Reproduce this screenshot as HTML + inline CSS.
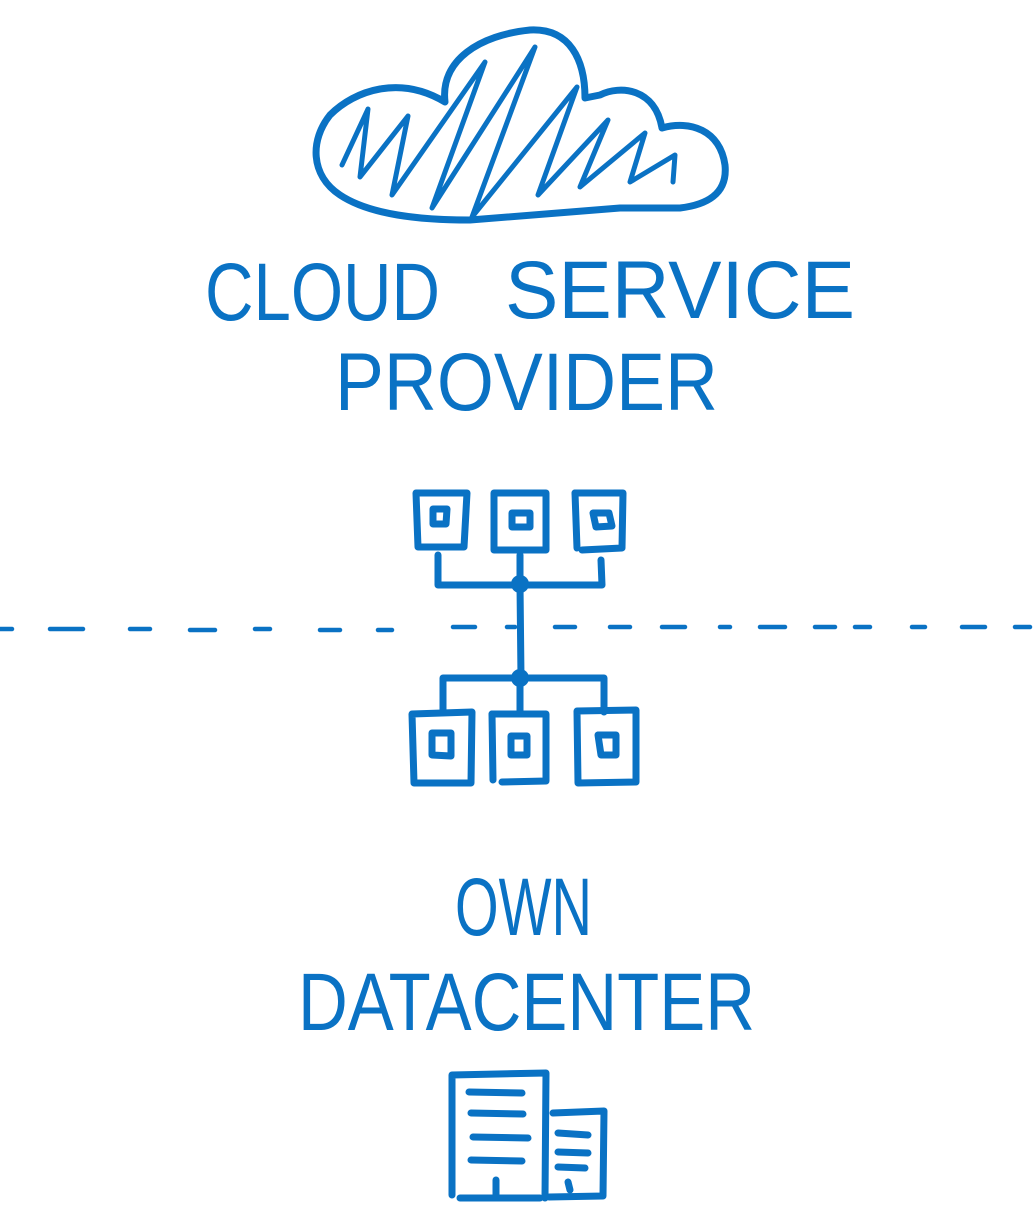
<!DOCTYPE html>
<html><head><meta charset="utf-8"><style>
html,body{margin:0;padding:0;background:#fff;}
svg{display:block}
text{font-family:"Liberation Sans",sans-serif;fill:#0a72c4;font-size:82px;}
</style></head><body>
<svg width="1036" height="1219" viewBox="0 0 1036 1219" xmlns="http://www.w3.org/2000/svg">
<g fill="none" stroke="#0a72c4" stroke-width="7" stroke-linecap="round" stroke-linejoin="round">
<!-- cloud -->
<path d="M445,102 C440,60 480,35 530,30 C570,28 585,60 585,98 L600,95 C620,85 655,88 662,128 C690,120 720,130 725,165 C728,195 705,205 680,208 L620,208 L470,220 C420,220 370,215 340,195 C310,175 310,140 330,115 C355,90 400,75 445,102 Z"/>
<path stroke-width="5" d="M342,165 L368,109 L360,177 L408,116 L392,195 L485,62 L432,208 L535,47 L472,217 L577,87 L538,195 L608,120 L580,187 L645,133 L630,182 L675,155 L673,182"/>
<!-- top servers -->
<path d="M416,493 L467,493 L464,547 L418,547 Z"/>
<path d="M433,509 L447,509 L446,524 L433,524 Z"/>
<path d="M494,493 L546,493 L546,550 L494,550 Z"/>
<path d="M512,513 L530,513 L530,527 L512,527 Z"/>
<path d="M575,493 L623,493 L622,548 L582,550"/>
<path d="M575,493 L577,548"/>
<path d="M593,513 L609,513 L612,526 L596,527 Z"/>
<path d="M438,555 L438,585 L602,585 L601,560"/>
<path d="M520,555 L520,585 L521,678"/>
<!-- bottom -->
<path d="M443,712 L443,678 L604,678 L604,712"/>
<path d="M520,678 L520,712"/>
<path d="M412,714 L472,712 L471,783 L414,783 Z"/>
<path d="M432,733 L451,733 L451,756 L432,755 Z"/>
<path d="M492,714 L546,714 L546,781 L502,782"/>
<path d="M492,714 L493,780"/>
<path d="M511,736 L527,736 L527,755 L511,755 Z"/>
<path d="M577,711 L636,710 L636,782 L578,783 Z"/>
<path d="M598,735 L616,735 L616,755 L601,755 Z"/>
<!-- building -->
<path d="M452,1195 L452,1075 L546,1073 L545,1198"/>
<path d="M460,1198 L540,1198"/>
<path d="M469,1092 L522,1093 M471,1113 L523,1114 M473,1137 L528,1138 M471,1160 L522,1161"/>
<path d="M496,1180 L496,1197"/>
<path d="M553,1113 L604,1111 L603,1196 L549,1197"/>
<path d="M558,1133 L588,1135 M558,1152 L588,1153 M558,1167 L585,1168"/>
<path d="M568,1182 L570,1190"/>
</g>
<!-- dashed line -->
<g stroke="#0a72c4" stroke-width="4.5" stroke-linecap="round">
<path d="M0,629 L12,629 M50,629 L83,629 M130,629 L150,629 M190,630 L215,630 M255,629 L270,629 M320,630 L340,630 M378,630 L392,630 M453,627 L475,627 M507,627 L515,627 M555,627 L575,627 M610,627 L630,627 M662,627 L685,627 M720,627 L730,627 M760,627 L785,627 M815,627 L835,627 M855,627 L870,627 M912,627 L925,627 M962,627 L985,627 M1015,627 L1030,627"/>
</g>
<circle cx="520" cy="584" r="9" fill="#0a72c4"/>
<circle cx="520" cy="678" r="9" fill="#0a72c4"/>
<text x="205" y="320" textLength="235" lengthAdjust="spacingAndGlyphs">CLOUD</text>
<text x="505" y="318" textLength="350" lengthAdjust="spacingAndGlyphs">SERVICE</text>
<text x="335" y="410" textLength="383" lengthAdjust="spacingAndGlyphs">PROVIDER</text>
<text x="455" y="935" textLength="137" lengthAdjust="spacingAndGlyphs">OWN</text>
<text x="298" y="1030" textLength="457" lengthAdjust="spacingAndGlyphs">DATACENTER</text>
</svg>
</body></html>
